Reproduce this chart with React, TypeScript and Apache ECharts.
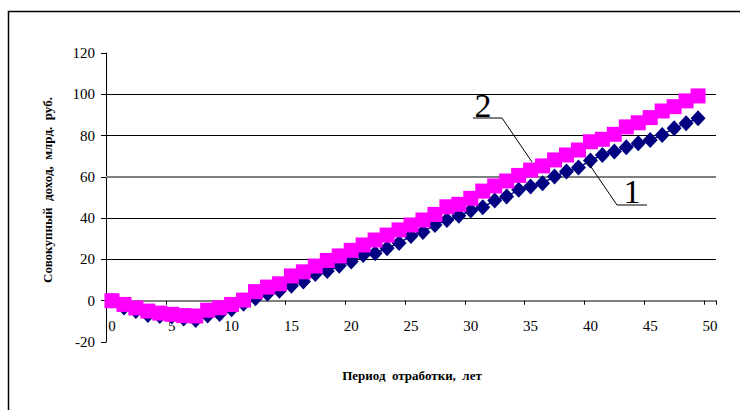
import React, { useEffect, useRef } from "react";
import * as echarts from "echarts";

// Period of operation, years (category axis)
const years = [
  "0", "1", "2", "3", "4", "5", "6", "7", "8", "9",
  "10", "11", "12", "13", "14", "15", "16", "17", "18", "19",
  "20", "21", "22", "23", "24", "25", "26", "27", "28", "29",
  "30", "31", "32", "33", "34", "35", "36", "37", "38", "39",
  "40", "41", "42", "43", "44", "45", "46", "47", "48", "49",
  "50",
];

// Curve 1: cumulative income, bn rub.
const income1 = [
  0, -3.3, -5.0, -6.9, -7.4, -7.7, -8.6, -9.3, -7.2, -6.4,
  -4.1, -1.5, 1.2, 3.4, 4.8, 7.2, 9.3, 13.0, 14.4, 16.9,
  19.0, 22.2, 23.0, 25.4, 27.9, 31.4, 33.3, 36.7, 39.1, 41.1,
  43.7, 45.3, 48.5, 50.5, 53.7, 55.3, 56.9, 60.2, 62.6, 64.5,
  67.9, 70.6, 72.3, 74.4, 76.3, 77.9, 80.3, 83.6, 86.0, 88.4,
];

// Curve 2: cumulative income, bn rub.
const income2 = [
  0, -1.8, -3.5, -5.0, -6.0, -6.6, -7.2, -7.4, -4.6, -3.4,
  -1.8, 0.3, 4.4, 6.6, 8.2, 12.0, 14.0, 16.8, 19.5, 21.7,
  24.4, 27.0, 29.4, 31.8, 34.3, 36.7, 39.1, 41.8, 45.5, 46.7,
  49.6, 53.1, 55.6, 58.0, 60.7, 63.3, 65.3, 68.2, 70.6, 73.0,
  77.0, 78.2, 80.6, 84.2, 86.2, 88.7, 91.9, 94.0, 96.8, 99.2,
];

// Value axis range
const yMin = -20;
const yMax = 120;
const yStep = 20;

const serif = "Liberation Serif";

// plot box
const gridTop = 53;
const gridBottom = 68;
const chartH = 410;

export default function App() {
  const ref = useRef<HTMLDivElement>(null);

  useEffect(() => {
    if (!ref.current) return;
    const chart = echarts.init(ref.current, null, { renderer: "svg" });

    // the category axis sits on the zero line of the value axis
    const plotH = chartH - gridTop - gridBottom;
    const zeroOffset = (plotH * (0 - yMin)) / (yMax - yMin);

    chart.setOption({
      animation: false,
      backgroundColor: "#ffffff",
      textStyle: { fontFamily: serif },
      grid: { left: 106, right: 24, top: gridTop, bottom: gridBottom, containLabel: false },
      xAxis: {
        type: "category",
        data: years,
        boundaryGap: true,
        offset: -zeroOffset,
        axisLine: { onZero: false, lineStyle: { color: "#808080", width: 2 } },
        axisTick: { show: true, interval: 4, length: 4, lineStyle: { color: "#000", width: 1 } },
        axisLabel: {
          interval: 4,
          margin: 18,
          color: "#000",
          fontFamily: serif,
          fontSize: 15,
        },
        splitLine: { show: false },
      },
      yAxis: {
        type: "value",
        min: yMin,
        max: yMax,
        interval: yStep,
        axisLine: { show: true, lineStyle: { color: "#000", width: 1 } },
        axisTick: { show: true, length: 5, lineStyle: { color: "#000", width: 1 } },
        axisLabel: { margin: 11, color: "#000", fontFamily: serif, fontSize: 15 },
        splitLine: {
          show: true,
          lineStyle: {
            width: 1,
            color: ["transparent", "transparent", "#000", "#000", "transparent", "#000", "#000", "transparent"],
          },
        },
      },
      series: [
        {
          name: "1",
          type: "line",
          data: income1,
          symbol: "diamond",
          symbolSize: [15, 16],
          showAllSymbol: true,
          itemStyle: { color: "#000080" },
          lineStyle: { color: "#000080", width: 1.5 },
          z: 2,
          markLine: {
            silent: true,
            z: 1,
            symbol: ["none", "none"],
            label: { show: false },
            lineStyle: { color: "#808080", width: 2, type: "solid" },
            data: [{ yAxis: 60 }],
          },
        },
        {
          name: "2",
          type: "line",
          data: income2,
          symbol: "rect",
          symbolSize: 15,
          showAllSymbol: true,
          itemStyle: { color: "#FF00FF" },
          lineStyle: { color: "#FF00FF", width: 1.5 },
          z: 3,
        },
      ],
      graphic: [
        {
          type: "rect",
          shape: { x: 8.5, y: 11.5, width: 780, height: 440 },
          style: { fill: "none", stroke: "#000", lineWidth: 1.5 },
          silent: true,
          z: 0,
        },
        {
          type: "text",
          x: 47,
          y: 190,
          rotation: Math.PI / 2,
          style: {
            text: "Совокупный  доход,  млрд.  руб.",
            fontFamily: serif,
            fontWeight: "bold",
            fontSize: 13,
            fill: "#000",
            align: "center",
            verticalAlign: "middle",
          },
        },
        {
          type: "text",
          x: 412,
          y: 375,
          style: {
            text: "Период  отработки,  лет",
            fontFamily: serif,
            fontWeight: "bold",
            fontSize: 13,
            fill: "#000",
            align: "center",
            verticalAlign: "middle",
          },
        },
        // callout for curve 2
        {
          type: "polyline",
          shape: { points: [[473, 118], [502, 118], [532, 162]] },
          style: { stroke: "#000", lineWidth: 1, fill: "none" },
          z: 10,
        },
        {
          type: "text",
          x: 483,
          y: 105,
          style: {
            text: "2",
            fontFamily: serif,
            fontSize: 34,
            fill: "#000",
            align: "center",
            verticalAlign: "middle",
          },
          z: 10,
        },
        // callout for curve 1
        {
          type: "polyline",
          shape: { points: [[587, 161], [617, 205], [647, 205]] },
          style: { stroke: "#000", lineWidth: 1, fill: "none" },
          z: 10,
        },
        {
          type: "text",
          x: 632,
          y: 191,
          style: {
            text: "1",
            fontFamily: serif,
            fontSize: 34,
            fill: "#000",
            align: "center",
            verticalAlign: "middle",
          },
          z: 10,
        },
      ],
    });

    return () => chart.dispose();
  }, []);

  return (
    <div
      ref={ref}
      style={{ position: "absolute", left: 0, top: 0, width: 740, height: 410, background: "#fff" }}
    />
  );
}
